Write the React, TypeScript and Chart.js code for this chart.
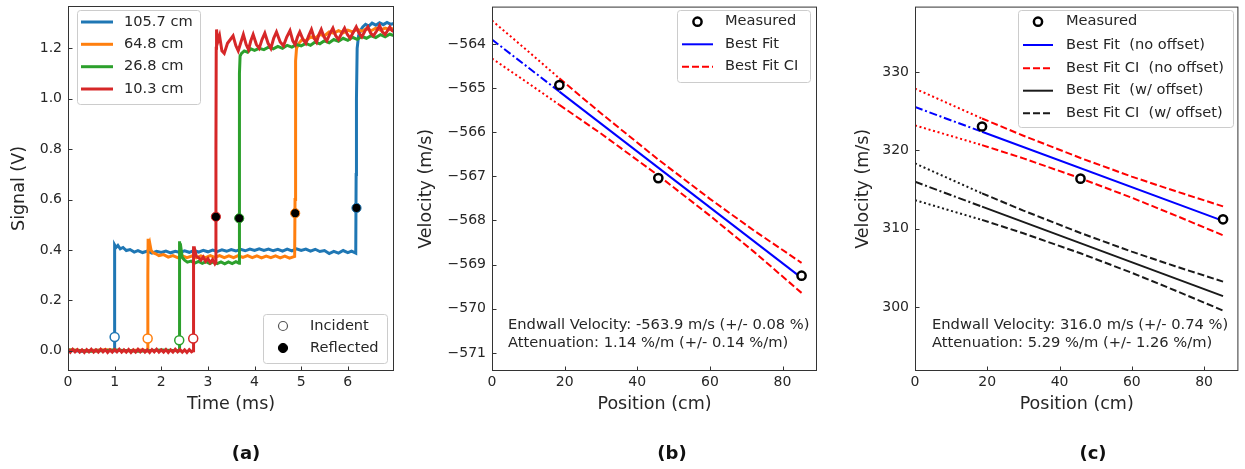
import React, { useEffect, useRef } from "react";
import { Chart, registerables } from "chart.js";
Chart.register(...registerables);

const FONT = "'DejaVu Sans', 'Liberation Sans', sans-serif";
const TXT = "#262626";
const H = 469;

// ---------------- Panel (a) data ----------------
const traceLabels = ["105.7 cm", "64.8 cm", "26.8 cm", "10.3 cm"];
const traceColors = ["#1f77b4", "#ff7f0e", "#2ca02c", "#d62728"];

const trace105: number[][] = [
  [0, 0.002], [0.3, -0.002], [0.6, 0.002], [0.998, 0], [1.0, 0.42], [1.03, 0.41], [1.07, 0.418], [1.12, 0.405],
  [1.18, 0.41], [1.25, 0.398], [1.33, 0.402], [1.42, 0.392], [1.5, 0.398], [1.6, 0.39], [1.7, 0.396], [1.8, 0.388],
  [1.9, 0.395], [2.0, 0.39], [2.1, 0.396], [2.2, 0.389], [2.3, 0.395], [2.4, 0.39], [2.5, 0.397], [2.6, 0.391],
  [2.7, 0.398], [2.8, 0.392], [2.9, 0.399], [3.0, 0.393], [3.1, 0.4], [3.2, 0.394], [3.3, 0.401], [3.4, 0.395],
  [3.5, 0.402], [3.6, 0.396], [3.7, 0.403], [3.8, 0.397], [3.9, 0.404], [4.0, 0.398], [4.1, 0.405], [4.2, 0.398],
  [4.3, 0.404], [4.4, 0.397], [4.5, 0.403], [4.6, 0.396], [4.7, 0.404], [4.8, 0.397], [4.9, 0.405], [5.0, 0.398],
  [5.1, 0.404], [5.2, 0.396], [5.3, 0.403], [5.4, 0.394], [5.5, 0.398], [5.6, 0.386], [5.7, 0.395], [5.8, 0.388],
  [5.9, 0.398], [6.0, 0.39], [6.08, 0.396], [6.17, 0.388], [6.178, 0.7], [6.185, 1.0], [6.2, 1.2], [6.23, 1.25],
  [6.27, 1.27], [6.32, 1.285], [6.38, 1.295], [6.45, 1.288], [6.52, 1.3], [6.6, 1.292], [6.68, 1.302], [6.76, 1.294],
  [6.84, 1.303], [6.92, 1.295], [7.0, 1.3],
];

const trace64: number[][] = [
  [0, 0.004], [0.4, 0], [0.8, 0.004], [1.2, 0], [1.6, 0.003], [1.708, 0], [1.712, 0.3], [1.718, 0.445], [1.73, 0.42],
  [1.75, 0.43], [1.78, 0.4], [1.82, 0.39], [1.88, 0.385], [1.95, 0.378], [2.05, 0.382], [2.15, 0.372], [2.25, 0.378],
  [2.35, 0.37], [2.45, 0.377], [2.55, 0.37], [2.65, 0.376], [2.75, 0.369], [2.85, 0.377], [2.95, 0.37], [3.05, 0.378],
  [3.15, 0.371], [3.25, 0.378], [3.35, 0.37], [3.45, 0.377], [3.55, 0.37], [3.65, 0.378], [3.75, 0.371], [3.85, 0.378],
  [3.95, 0.37], [4.05, 0.377], [4.15, 0.369], [4.25, 0.376], [4.35, 0.37], [4.45, 0.377], [4.55, 0.369], [4.65, 0.376],
  [4.75, 0.368], [4.86, 0.375], [4.868, 0.6], [4.875, 0.9], [4.885, 1.15], [4.9, 1.2], [4.95, 1.22], [5.02, 1.235],
  [5.1, 1.23], [5.2, 1.245], [5.3, 1.24], [5.4, 1.255], [5.5, 1.25], [5.6, 1.265], [5.7, 1.26], [5.8, 1.27],
  [5.9, 1.262], [6.0, 1.272], [6.1, 1.265], [6.2, 1.275], [6.3, 1.268], [6.4, 1.278], [6.5, 1.27], [6.6, 1.28],
  [6.7, 1.272], [6.8, 1.28], [6.9, 1.274], [7.0, 1.28],
];

const trace26: number[][] = [
  [0, 0.003], [0.5, -0.002], [1.0, 0.003], [1.5, -0.002], [2.0, 0.003], [2.383, 0], [2.386, 0.3], [2.39, 0.435],
  [2.4, 0.4], [2.42, 0.41], [2.45, 0.37], [2.5, 0.36], [2.56, 0.352], [2.64, 0.356], [2.72, 0.348], [2.8, 0.355],
  [2.88, 0.347], [2.96, 0.354], [3.04, 0.346], [3.12, 0.354], [3.2, 0.346], [3.28, 0.353], [3.36, 0.345], [3.44, 0.353],
  [3.52, 0.346], [3.6, 0.354], [3.668, 0.348], [3.672, 0.7], [3.68, 1.1], [3.69, 1.17], [3.72, 1.18], [3.78, 1.19],
  [3.85, 1.185], [3.92, 1.198], [4.0, 1.192], [4.1, 1.2], [4.2, 1.195], [4.3, 1.205], [4.4, 1.198], [4.5, 1.208],
  [4.6, 1.2], [4.7, 1.212], [4.8, 1.205], [4.9, 1.215], [5.0, 1.21], [5.1, 1.22], [5.2, 1.212], [5.3, 1.225],
  [5.4, 1.218], [5.5, 1.23], [5.6, 1.222], [5.7, 1.235], [5.8, 1.228], [5.9, 1.24], [6.0, 1.232], [6.1, 1.244],
  [6.2, 1.236], [6.3, 1.247], [6.4, 1.24], [6.5, 1.25], [6.6, 1.243], [6.7, 1.254], [6.8, 1.246], [6.9, 1.256], [7.0, 1.25],
];

const trace10: number[][] = [
  [0, 0.005], [0.05, -0.005], [0.1, 0.006], [0.15, -0.004], [0.2, 0.005], [0.25, -0.005], [0.3, 0.004], [0.35, -0.006],
  [0.4, 0.005], [0.45, -0.004], [0.5, 0.006], [0.55, -0.005], [0.6, 0.004], [0.65, -0.005], [0.7, 0.006], [0.75, -0.004],
  [0.8, 0.005], [0.85, -0.006], [0.9, 0.004], [0.95, -0.005], [1.0, 0.005], [1.05, -0.004], [1.1, 0.006], [1.15, -0.005],
  [1.2, 0.004], [1.25, -0.005], [1.3, 0.005], [1.35, -0.006], [1.4, 0.004], [1.45, -0.005], [1.5, 0.006], [1.55, -0.004],
  [1.6, 0.005], [1.65, -0.005], [1.7, 0.004], [1.75, -0.006], [1.8, 0.005], [1.85, -0.004], [1.9, 0.006], [1.95, -0.005],
  [2.0, 0.004], [2.05, -0.005], [2.1, 0.005], [2.15, -0.006], [2.2, 0.004], [2.25, -0.005], [2.3, 0.006], [2.35, -0.004],
  [2.4, 0.005], [2.45, -0.005], [2.5, 0.004], [2.55, -0.006], [2.6, 0.005], [2.65, -0.004], [2.683, 0], [2.686, 0.3],
  [2.69, 0.415], [2.7, 0.39], [2.72, 0.4], [2.75, 0.375], [2.8, 0.37], [2.85, 0.36], [2.9, 0.372], [2.95, 0.355],
  [3.0, 0.366], [3.05, 0.35], [3.1, 0.362], [3.15, 0.345], [3.168, 0.35], [3.172, 0.8], [3.178, 1.2], [3.185, 1.275],
  [3.21, 1.225], [3.25, 1.25], [3.3, 1.19], [3.35, 1.18], [3.42, 1.22], [3.54, 1.25], [3.6, 1.21], [3.65, 1.19],
  [3.7, 1.22], [3.76, 1.255], [3.82, 1.215], [3.87, 1.195], [3.92, 1.23], [3.97, 1.255], [4.04, 1.215], [4.1, 1.2],
  [4.16, 1.235], [4.22, 1.26], [4.29, 1.22], [4.35, 1.2], [4.41, 1.24], [4.47, 1.265], [4.55, 1.225], [4.62, 1.21],
  [4.69, 1.245], [4.76, 1.27], [4.82, 1.23], [4.87, 1.215], [4.92, 1.245], [4.97, 1.265], [5.04, 1.235], [5.1, 1.22],
  [5.16, 1.25], [5.22, 1.275], [5.28, 1.24], [5.33, 1.225], [5.38, 1.255], [5.43, 1.275], [5.49, 1.245], [5.55, 1.23],
  [5.62, 1.26], [5.68, 1.28], [5.74, 1.25], [5.8, 1.235], [5.87, 1.26], [5.93, 1.28], [5.99, 1.255], [6.05, 1.24],
  [6.12, 1.265], [6.18, 1.285], [6.24, 1.26], [6.3, 1.245], [6.37, 1.27], [6.43, 1.285], [6.49, 1.26], [6.55, 1.25],
  [6.62, 1.27], [6.68, 1.29], [6.74, 1.265], [6.8, 1.255], [6.85, 1.27], [6.9, 1.285], [6.95, 1.27], [7.0, 1.265],
];

const incidentT = [1.0, 1.708, 2.385, 2.685];
const incidentV = [0.055, 0.049, 0.042, 0.049];
const reflectedT = [6.186, 4.871, 3.671, 3.171];
const reflectedV = [0.567, 0.546, 0.526, 0.532];
const markerLabels = ["Incident", "Reflected"];
const aTicksX = [0, 1, 2, 3, 4, 5, 6];
const aTicksY = [0, 0.2, 0.4, 0.6, 0.8, 1.0, 1.2];

// ---------------- Panels (b), (c) data ----------------
const positionCm = [18.55, 45.8, 85.25];
const fitX = [0, 18.55, 85.25];
const ciX = [0, 10, 18.55, 30, 45.8, 60, 72, 85.25];

const bMeasured = [-564.93, -567.04, -569.25];
const bFit = [-563.9, -565.08, -569.3];
const bCIUpper = [-563.47, -564.17, -564.78, -565.57, -566.62, -567.51, -568.22, -568.96];
const bCILower = [-564.33, -564.89, -565.38, -566.03, -566.98, -567.89, -568.7, -569.64];

const cMeasured = [323.07, 316.4, 311.2];
const cFitNoOffset = [325.56, 322.39, 311.0];
const cCIUpperNoOffset = [327.91, 325.85, 324.09, 321.89, 319.04, 316.66, 314.81, 312.85];
const cCILowerNoOffset = [323.21, 321.85, 320.69, 318.99, 316.44, 313.96, 311.71, 309.15];
const cFitOffset = [316.0, 312.82, 301.38];
const cCIUpperOffset = [318.35, 316.28, 314.52, 312.31, 309.45, 307.06, 305.2, 303.23];
const cCILowerOffset = [313.65, 312.28, 311.12, 309.41, 306.85, 304.36, 302.1, 299.53];

const posTicks = [0, 20, 40, 60, 80];
const bTicksY = [-564, -565, -566, -567, -568, -569, -570, -571];
const cTicksY = [300, 310, 320, 330];

const bText = ["Endwall Velocity: -563.9 m/s (+/- 0.08 %)", "Attenuation: 1.14 %/m (+/- 0.14 %/m)"];
const cText = ["Endwall Velocity: 316.0 m/s (+/- 0.74 %)", "Attenuation: 5.29 %/m (+/- 1.26 %/m)"];
const panelLabels = ["(a)", "(b)", "(c)"];

// ---------------- helpers ----------------
const zip = (xs: number[], ys: number[]) => xs.map((x, i) => ({ x, y: ys[i] }));
const part = (xs: number[], ys: number[], a: number, b: number) => zip(xs.slice(a, b + 1), ys.slice(a, b + 1));
const pairs = (p: number[][]) => p.map(([x, y]) => ({ x, y }));

const DASHED = [7, 3];
const DOTTED = [2, 2.7];
const DASHDOT = [8, 2.7, 2, 2.7];

const lineDs = (data: any[], color: string, width: number, dash: number[], order: number) => ({
  data, showLine: true, borderColor: color, borderWidth: width, borderDash: dash,
  pointRadius: 0, pointHoverRadius: 0, fill: false, tension: 0, order,
});
const markDs = (data: any[], edge: any, fill: any, r: number, bw: number, order: number) => ({
  data, showLine: false, pointRadius: r, pointHoverRadius: r, pointBorderColor: edge,
  pointBackgroundColor: fill, pointBorderWidth: bw, pointHoverBorderWidth: bw, order,
});

function zeroPad(s: any) {
  s.paddingLeft = 0; s.paddingRight = 0; s.paddingTop = 0; s.paddingBottom = 0;
}

function xAxis(min: number, max: number, ticks: number[], fmt: (v: number) => string, title: string) {
  return {
    type: "linear", min, max,
    grid: { display: false, drawTicks: false }, border: { display: false },
    ticks: { font: { family: FONT, size: 14 }, color: TXT, padding: 3, maxRotation: 0, autoSkip: false, callback: (v: any) => fmt(Number(v)) },
    afterBuildTicks: (s: any) => { s.ticks = ticks.map((v) => ({ value: v })); },
    afterFit: (s: any) => { s.height = H - 371; zeroPad(s); },
    title: { display: true, text: title, color: TXT, font: { family: FONT, size: 17.5, lineHeight: 1.2 }, padding: { top: 0, bottom: 54.5 } },
  };
}
function yAxis(min: number, max: number, ticks: number[], fmt: (v: number) => string, title: string, w: number, titleCenter: number) {
  return {
    type: "linear", min, max,
    grid: { display: false, drawTicks: false }, border: { display: false },
    ticks: { font: { family: FONT, size: 14 }, color: TXT, padding: 6, autoSkip: false, callback: (v: any) => fmt(Number(v)) },
    afterBuildTicks: (s: any) => { s.ticks = ticks.map((v) => ({ value: v })); },
    afterFit: (s: any) => { s.width = w; zeroPad(s); },
    title: { display: true, text: title, color: TXT, font: { family: FONT, size: 17.5, lineHeight: 1.2 }, padding: { top: titleCenter - 10.5, bottom: 0 } },
  };
}

const frameTicks = {
  id: "frameTicks",
  afterDatasetsDraw(chart: any) {
    const { ctx, chartArea } = chart;
    const { left, right, top, bottom } = chartArea;
    ctx.save();
    ctx.strokeStyle = "#333333";
    ctx.lineWidth = 1;
    ctx.setLineDash([]);
    ctx.strokeRect(left + 0.5, top + 0.5, right - left - 1, bottom - top - 1);
    const xs = chart.scales.x;
    const ys = chart.scales.y;
    ctx.beginPath();
    xs.ticks.forEach((t: any) => {
      const px = Math.round(xs.getPixelForValue(t.value)) + 0.5;
      ctx.moveTo(px, bottom);
      ctx.lineTo(px, bottom - 4.5);
    });
    ys.ticks.forEach((t: any) => {
      const py = Math.round(ys.getPixelForValue(t.value)) + 0.5;
      ctx.moveTo(left, py);
      ctx.lineTo(left + 4.5, py);
    });
    ctx.stroke();
    ctx.restore();
  },
};

type LegItem = {
  label: string;
  line?: { color: string; width: number; dash: number[] };
  marker?: { edge: string; fill: string; r: number; bw: number };
};

function roundRect(ctx: any, x: number, y: number, w: number, h: number, r: number) {
  ctx.beginPath();
  ctx.moveTo(x + r, y);
  ctx.lineTo(x + w - r, y);
  ctx.arcTo(x + w, y, x + w, y + r, r);
  ctx.lineTo(x + w, y + h - r);
  ctx.arcTo(x + w, y + h, x + w - r, y + h, r);
  ctx.lineTo(x + r, y + h);
  ctx.arcTo(x, y + h, x, y + h - r, r);
  ctx.lineTo(x, y + r);
  ctx.arcTo(x, y, x + r, y, r);
  ctx.closePath();
}

function legendPlugin(id: string, box: number[], rows: number[], sw: number[], textX: number, items: LegItem[]) {
  return {
    id,
    afterDraw(chart: any) {
      const ctx = chart.ctx;
      ctx.save();
      const [x0, y0, x1, y1] = box;
      roundRect(ctx, x0 + 0.5, y0 + 0.5, x1 - x0, y1 - y0, 3);
      ctx.fillStyle = "rgba(255,255,255,0.8)";
      ctx.fill();
      ctx.strokeStyle = "#cccccc";
      ctx.lineWidth = 1;
      ctx.stroke();
      items.forEach((it, i) => {
        const y = rows[i];
        if (it.line) {
          ctx.beginPath();
          ctx.setLineDash(it.line.dash);
          ctx.strokeStyle = it.line.color;
          ctx.lineWidth = it.line.width;
          ctx.moveTo(sw[0], y);
          ctx.lineTo(sw[1], y);
          ctx.stroke();
          ctx.setLineDash([]);
        }
        if (it.marker) {
          ctx.beginPath();
          ctx.arc((sw[0] + sw[1]) / 2, y, it.marker.r, 0, Math.PI * 2);
          ctx.fillStyle = it.marker.fill;
          ctx.fill();
          ctx.lineWidth = it.marker.bw;
          ctx.strokeStyle = it.marker.edge;
          ctx.stroke();
        }
        ctx.fillStyle = TXT;
        ctx.font = `14.6px ${FONT}`;
        ctx.textBaseline = "middle";
        ctx.textAlign = "left";
        ctx.fillText(it.label, textX, y);
      });
      ctx.restore();
    },
  };
}

function notePlugin(lines: string[], x: number, ys: number[]) {
  return {
    id: "note",
    afterDraw(chart: any) {
      const ctx = chart.ctx;
      ctx.save();
      ctx.fillStyle = TXT;
      ctx.font = `14.7px ${FONT}`;
      ctx.textBaseline = "middle";
      ctx.textAlign = "left";
      lines.forEach((t, i) => ctx.fillText(t, x, ys[i]));
      ctx.restore();
    },
  };
}

const baseOptions = (padRight: number, scales: any) => ({
  responsive: false,
  maintainAspectRatio: false,
  animation: false,
  devicePixelRatio: 1,
  events: [],
  layout: { padding: { left: 0, right: padRight, top: 3, bottom: 0 } },
  plugins: { legend: { display: false }, tooltip: { enabled: false }, title: { display: false } },
  scales,
});

const fmtInt = (v: number) => String(Math.round(v)).replace("-", "\u2212");
const fmt1 = (v: number) => v.toFixed(1);

// ---------------- chart builders ----------------
function buildA() {
  const traces = [trace105, trace64, trace26, trace10];
  const orders = [4, 3, 2, 1];
  const datasets: any[] = traces.map((t, i) => lineDs(pairs(t), traceColors[i], 3, [], orders[i]));
  datasets.push(markDs(zip(incidentT, incidentV), traceColors, "#ffffff", 4.5, 1.5, 0));
  datasets.push(markDs(zip(reflectedT, reflectedV), traceColors, "#000000", 4.6, 1, 0));
  return {
    type: "scatter",
    data: { datasets },
    options: baseOptions(16, {
      x: xAxis(0, 6.99, aTicksX, (v) => String(Math.round(v)), "Time (ms)"),
      y: yAxis(-0.0799, 1.368, aTicksY, fmt1, "Signal (V)", 68, 19),
    }),
    plugins: [
      frameTicks,
      legendPlugin("legA1", [77, 10, 200, 104], [22, 44.3, 66.7, 89], [81, 113], 124,
        traceLabels.map((l, i) => ({ label: l, line: { color: traceColors[i], width: 3, dash: [] } }))),
      legendPlugin("legA2", [263, 314, 387, 363], [326, 348], [270, 296], 310, [
        { label: markerLabels[0], marker: { edge: "#555555", fill: "#ffffff", r: 4.5, bw: 1.2 } },
        { label: markerLabels[1], marker: { edge: "#000000", fill: "#000000", r: 4.6, bw: 1 } },
      ]),
    ],
  };
}

function buildB() {
  const datasets: any[] = [
    markDs(zip(positionCm, bMeasured), "#000000", "#ffffff", 4.1, 2.5, 0),
    lineDs(part(fitX, bFit, 0, 1), "#0000ff", 2, DASHDOT, 1),
    lineDs(part(fitX, bFit, 1, 2), "#0000ff", 2, [], 1),
    lineDs(part(ciX, bCIUpper, 0, 2), "#ff0000", 2, DOTTED, 2),
    lineDs(part(ciX, bCIUpper, 2, 7), "#ff0000", 2, DASHED, 2),
    lineDs(part(ciX, bCILower, 0, 2), "#ff0000", 2, DOTTED, 2),
    lineDs(part(ciX, bCILower, 2, 7), "#ff0000", 2, DASHED, 2),
  ];
  return {
    type: "scatter",
    data: { datasets },
    options: baseOptions(13, {
      x: xAxis(0, 89.5, posTicks, (v) => String(Math.round(v)), "Position (cm)"),
      y: yAxis(-571.41, -563.154, bTicksY, fmtInt, "Velocity (m/s)", 82, 16.7),
    }),
    plugins: [
      frameTicks,
      legendPlugin("legB", [267, 10, 400, 82], [21.7, 44.3, 66.7], [272, 303], 315, [
        { label: "Measured", marker: { edge: "#000000", fill: "#ffffff", r: 4.1, bw: 2.5 } },
        { label: "Best Fit", line: { color: "#0000ff", width: 2, dash: [] } },
        { label: "Best Fit CI", line: { color: "#ff0000", width: 2, dash: DASHED } },
      ]),
      notePlugin(bText, 98, [325, 343.5]),
    ],
  };
}

function buildC() {
  const datasets: any[] = [
    markDs(zip(positionCm, cMeasured), "#000000", "#ffffff", 4.1, 2.5, 0),
    lineDs(part(fitX, cFitNoOffset, 0, 1), "#0000ff", 2, DASHDOT, 1),
    lineDs(part(fitX, cFitNoOffset, 1, 2), "#0000ff", 2, [], 1),
    lineDs(part(ciX, cCIUpperNoOffset, 0, 2), "#ff0000", 2, DOTTED, 2),
    lineDs(part(ciX, cCIUpperNoOffset, 2, 7), "#ff0000", 2, DASHED, 2),
    lineDs(part(ciX, cCILowerNoOffset, 0, 2), "#ff0000", 2, DOTTED, 2),
    lineDs(part(ciX, cCILowerNoOffset, 2, 7), "#ff0000", 2, DASHED, 2),
    lineDs(part(fitX, cFitOffset, 0, 1), "#1a1a1a", 2, DASHDOT, 3),
    lineDs(part(fitX, cFitOffset, 1, 2), "#1a1a1a", 2, [], 3),
    lineDs(part(ciX, cCIUpperOffset, 0, 2), "#1a1a1a", 2, DOTTED, 4),
    lineDs(part(ciX, cCIUpperOffset, 2, 7), "#1a1a1a", 2, DASHED, 4),
    lineDs(part(ciX, cCILowerOffset, 0, 2), "#1a1a1a", 2, DOTTED, 4),
    lineDs(part(ciX, cCILowerOffset, 2, 7), "#1a1a1a", 2, DASHED, 4),
  ];
  return {
    type: "scatter",
    data: { datasets },
    options: baseOptions(4, {
      x: xAxis(0, 89.5, posTicks, (v) => String(Math.round(v)), "Position (cm)"),
      y: yAxis(291.8, 338.4, cTicksY, fmtInt, "Velocity (m/s)", 85, 33.3),
    }),
    plugins: [
      frameTicks,
      legendPlugin("legC", [188, 10, 403, 127], [21.7, 45, 68.3, 90.7, 113.3], [193, 223], 236, [
        { label: "Measured", marker: { edge: "#000000", fill: "#ffffff", r: 4.1, bw: 2.5 } },
        { label: "Best Fit  (no offset)", line: { color: "#0000ff", width: 2, dash: [] } },
        { label: "Best Fit CI  (no offset)", line: { color: "#ff0000", width: 2, dash: DASHED } },
        { label: "Best Fit  (w/ offset)", line: { color: "#1a1a1a", width: 2, dash: [] } },
        { label: "Best Fit CI  (w/ offset)", line: { color: "#1a1a1a", width: 2, dash: DASHED } },
      ]),
      notePlugin(cText, 102, [325, 343.5]),
    ],
  };
}

function Panel({ left, width, build }: { left: number; width: number; build: () => any }) {
  const ref = useRef<HTMLCanvasElement>(null);
  useEffect(() => {
    const chart = new Chart(ref.current as HTMLCanvasElement, build());
    return () => chart.destroy();
  }, []);
  return (
    <div style={{ position: "absolute", left, top: 0, width, height: H }}>
      <canvas ref={ref} width={width} height={H} style={{ width, height: H, display: "block" }} />
    </div>
  );
}

const labelCenters = [246, 672, 1093];

export default function App() {
  return (
    <div style={{ position: "fixed", left: 0, top: 0, width: 1245, height: H, background: "#ffffff", overflow: "hidden" }}>
      <Panel left={0} width={410} build={buildA} />
      <Panel left={410} width={420} build={buildB} />
      <Panel left={830} width={415} build={buildC} />
      {panelLabels.map((t, i) => (
        <div
          key={t}
          style={{
            position: "absolute", left: labelCenters[i] - 50, width: 100, top: 443, height: 20, lineHeight: "20px",
            textAlign: "center", fontFamily: FONT, fontWeight: "bold", fontSize: 18, color: "#111111",
          }}
        >
          {t}
        </div>
      ))}
    </div>
  );
}
